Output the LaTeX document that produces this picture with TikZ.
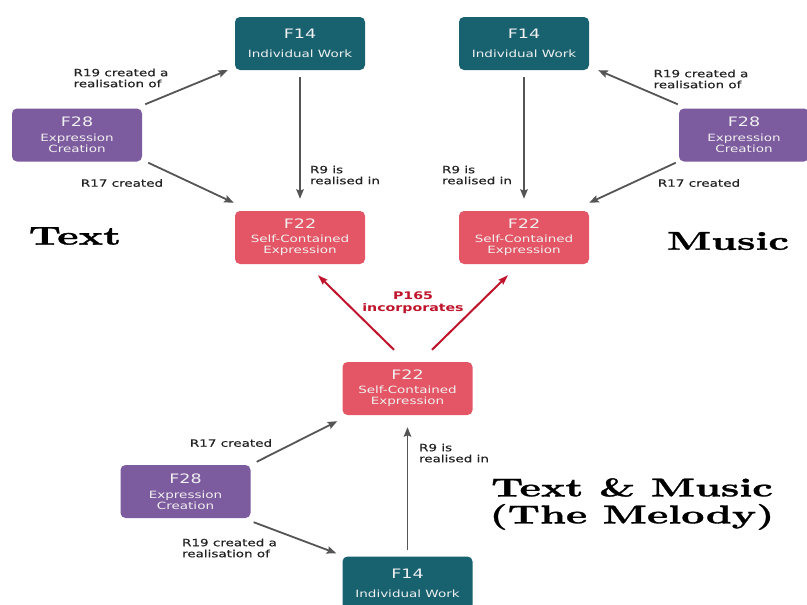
\documentclass[tikz,border=0pt]{standalone}
\usepackage{fontspec}
\usepackage{graphicx}
\usetikzlibrary{arrows.meta,calc}
\newfontfamily\dv[FakeStretch=1.35]{DejaVu Sans}
\newfontfamily\dvl[FakeStretch=1.35,FakeBold=0.4]{DejaVu Sans}
\newfontfamily\bigf[FakeStretch=1.57,FakeBold=1.2]{lmroman10-bold.otf}
\definecolor{workc}{RGB}{24,98,112}
\definecolor{creac}{RGB}{124,91,158}
\definecolor{exprc}{RGB}{228,86,102}
\definecolor{redc}{RGB}{192,20,44}
\definecolor{arrc}{RGB}{85,85,85}
\definecolor{labc}{RGB}{34,34,34}
\newcommand{\ttl}[1]{{\fontsize{13}{13}\selectfont #1}}
\begin{document}
\begin{tikzpicture}[x=1pt,y=-1pt,
 box/.style={rounded corners=5pt, minimum width=130pt, minimum height=53pt, inner sep=0pt,
   text=white!94!black, align=center, font=\dv\fontsize{10}{11}\selectfont},
 work/.style={box, fill=workc},
 crea/.style={box, fill=creac},
 expr/.style={box, fill=exprc},
 rel/.style={draw=arrc, line width=1.8pt, -{Stealth[length=9.5pt,width=7.5pt,inset=1.5pt]}},
 inc/.style={draw=redc, line width=2pt, -{Stealth[length=10pt,width=6.5pt,inset=1.5pt]}},
 lab/.style={text=labc, align=left, inner sep=0pt, font=\dvl\fontsize{10}{11}\selectfont},
 inclab/.style={text=redc, align=center, inner sep=0pt, font=\dv\bfseries\fontsize{10.5}{12}\selectfont},
 big/.style={text=black, inner sep=0pt, align=center, font=\bigf\fontsize{25.8}{27}\selectfont}
]
\fill[white] (0,0) rectangle (807,605);
\useasboundingbox (0,0) rectangle (807,605);

% Text part (left)
\node[work] (l14) at (300,43.5) {\ttl{F14}\\[8pt]Individual Work};
\node[crea] (l28) at (77,135) {\ttl{F28}\\[4pt]Expression\\Creation};
\node[expr] (l22) at (300,237.5) {\ttl{F22}\\[3pt]Self-Contained\\Expression};

% Music part (right)
\node[work] (r14) at (524,43.5) {\ttl{F14}\\[8pt]Individual Work};
\node[crea] (r28) at (744,135) {\ttl{F28}\\[4pt]Expression\\Creation};
\node[expr] (r22) at (524,237.5) {\ttl{F22}\\[3pt]Self-Contained\\Expression};

% Melody part (bottom)
\node[expr] (b22) at (407.5,388.5) {\ttl{F22}\\[3pt]Self-Contained\\Expression};
\node[crea] (b28) at (185.5,491.5) {\ttl{F28}\\[4pt]Expression\\Creation};
\node[work] (b14) at (407.5,583) {\ttl{F14}\\[8pt]Individual Work};

% connectors left
\draw[rel] ($(l28.north east)+(3,-4)$) -- ($(l14.south west)+(-7,0)$);
\draw[rel] ($(l28.south east)+(6,1)$) -- ($(l22.north west)+(-1,-8)$);
\draw[rel] ($(l14.south)+(0,7)$) -- ($(l22.north)+(0,-12)$);
% connectors right
\draw[rel] ($(r28.north west)+(-1,-4)$) -- ($(r14.south east)+(9,0)$);
\draw[rel] ($(r28.south west)+(-3,1)$) -- ($(r22.north east)+(0,-8)$);
\draw[rel] ($(r14.south)+(0,7)$) -- ($(r22.north)+(0,-12)$);
% connectors bottom
\draw[rel] ($(b28.north east)+(6,-3)$) -- ($(b22.south west)+(-5,6)$);
\draw[rel] ($(b28.south east)+(3,4)$) -- ($(b14.north west)+(-6,-3)$);
\draw[rel] ($(b14.north)+(0,-6)$) -- ($(b22.south)+(0,12)$);
% incorporates
\draw[inc] ($(b22.north)+(-13.5,-12)$) -- ($(l22.south)+(18,11)$);
\draw[inc] ($(b22.north)+(24.5,-12)$) -- ($(r22.south)+(-16,11)$);

% labels
\node[lab] (ll19) at (121,78) {R19 created a\\realisation of};
\node[lab] (ll17) at (122,183) {R17 created};
\node[lab] (ll9) at (345,175) {R9 is\\realised in};
\node[lab] (rl19) at (701,79) {R19 created a\\realisation of};
\node[lab] (rl17) at (699,183) {R17 created};
\node[lab] (rl9) at (477,175) {R9 is\\realised in};
\node[lab] (bl17) at (231,443) {R17 created};
\node[lab] (bl19) at (229.5,548) {R19 created a\\realisation of};
\node[lab] (bl9) at (454,453) {R9 is\\realised in};
\node[inclab] (p165) at (413,303) {P165\\incorporates};

% titles
\node[big] (ttext) at (75,236) {Text};
\node[big] (tmusic) at (728,241) {Music};
\node[big] (tmelody) at (632,504) {Text \& Music\\(The Melody)};
\end{tikzpicture}
\end{document}
